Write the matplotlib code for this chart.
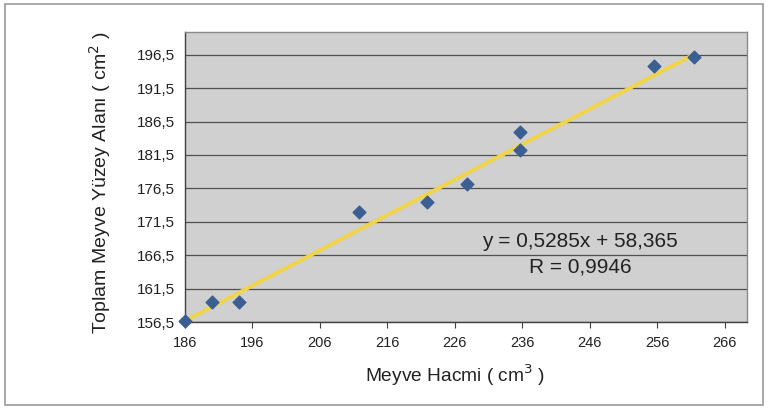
import matplotlib
matplotlib.use("Agg")
import matplotlib.pyplot as plt
from matplotlib.patches import Rectangle
import numpy as np

plt.rcParams['font.family'] = ['Liberation Sans', 'DejaVu Sans']

# Data
meyve_hacmi = [186.0, 190.0, 194.0, 211.8, 221.8, 227.8, 235.6, 235.6, 255.5, 261.4]
yuzey_alani = [156.6, 159.5, 159.5, 173.0, 174.4, 177.2, 182.3, 185.0, 194.85, 196.2]
slope = 0.5285
intercept = 58.365
x_ticks = [186, 196, 206, 216, 226, 236, 246, 256, 266]
y_ticks = [156.5, 161.5, 166.5, 171.5, 176.5, 181.5, 186.5, 191.5, 196.5]
eq_text = "y = 0,5285x + 58,365"
r_text = "R = 0,9946"

fig = plt.figure(figsize=(7.68, 4.09), dpi=100)
fig.patch.set_facecolor('white')
# outer chart border
fig.patches.append(Rectangle((5/768, 4/409), 758/768, 401/409, transform=fig.transFigure,
                             fill=False, edgecolor='#9a9a9a', linewidth=1.2))

ax = fig.add_axes([185/768, 1-322/409, (747-185)/768, (322-32)/409])
ax.set_facecolor('#d0d0d0')
ax.set_xlim(186, 269.3)
ax.set_ylim(156.5, 199.9)

ax.set_xticks(x_ticks)
ax.set_xticklabels([str(v) for v in x_ticks])
ax.set_yticks(y_ticks)
ax.set_yticklabels([f"{v:.1f}".replace('.', ',') for v in y_ticks])
ax.tick_params(axis='x', direction='out', length=4, color='#404040', labelsize=10.5, pad=6, labelcolor='#222222')
ax.tick_params(axis='y', length=0, labelsize=11, pad=7, labelcolor='#222222')

ax.grid(axis='y', color='#505050', linewidth=0.9)
ax.set_axisbelow(True)
for s in ['left', 'bottom']:
    ax.spines[s].set_color('#404040')
    ax.spines[s].set_linewidth(1.0)
for s in ['top', 'right']:
    ax.spines[s].set_color('#8a8a8a')
    ax.spines[s].set_linewidth(1.0)

xl = np.array([min(meyve_hacmi), max(meyve_hacmi)])
ax.plot(xl, slope * xl + intercept, color='#f2d44a', linewidth=2.8, zorder=2, solid_capstyle='butt')
ax.scatter(meyve_hacmi, yuzey_alani, marker='D', s=42, color='#3b5f93', zorder=3, clip_on=False)

ax.text(580/768, 1-242/409, eq_text, transform=fig.transFigure, ha='center', va='center',
        fontsize=15, color='#222222')
ax.text(580/768, 1-267/409, r_text, transform=fig.transFigure, ha='center', va='center',
        fontsize=15, color='#222222')

fig.text(455/768, 1-375/409, "Meyve Hacmi ( cm$^3$ )", ha='center', va='center',
         fontsize=13.8, color='#222222')
fig.text(100/768, 1-183/409, "Toplam Meyve Yüzey Alanı ( cm$^2$ )", ha='center', va='center',
         rotation=90, fontsize=14, color='#222222')

fig.savefig("out.png", dpi=100, facecolor='white')
